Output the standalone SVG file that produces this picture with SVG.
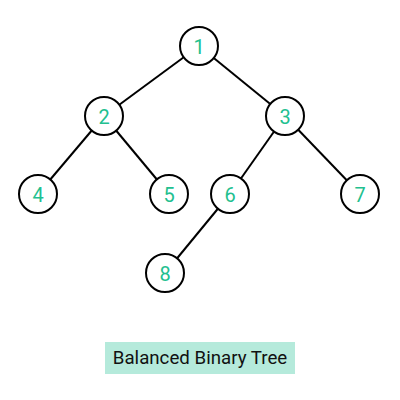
<svg xmlns="http://www.w3.org/2000/svg" width="400" height="400" viewBox="0 0 400 400">
<style>
.n circle{fill:#fff;stroke:#000;stroke-width:2}
.n text{font-family:Roboto,"Liberation Sans",sans-serif;font-size:20px;fill:#22c08f;text-anchor:middle;dominant-baseline:central}
.e line{stroke:#000;stroke-width:2}
</style>
<rect width="400" height="400" fill="#fff"/>
<g id="edges" class="e">
<line x1="199" y1="46" x2="104" y2="116"/>
<line x1="199" y1="46" x2="285" y2="116"/>
<line x1="104" y1="116" x2="38" y2="194"/>
<line x1="104" y1="116" x2="169" y2="194"/>
<line x1="285" y1="116" x2="230" y2="194"/>
<line x1="285" y1="116" x2="360" y2="194"/>
<line x1="230" y1="194" x2="165" y2="273"/>
</g>
<g id="n1" class="n"><circle cx="199" cy="46" r="19"/><text x="199" y="47">1</text></g>
<g id="n2" class="n"><circle cx="104" cy="116" r="19"/><text x="104" y="117">2</text></g>
<g id="n3" class="n"><circle cx="285" cy="116" r="19"/><text x="285" y="117">3</text></g>
<g id="n4" class="n"><circle cx="38" cy="194" r="19"/><text x="38" y="195">4</text></g>
<g id="n5" class="n"><circle cx="169" cy="194" r="19"/><text x="169" y="195">5</text></g>
<g id="n6" class="n"><circle cx="230" cy="194" r="19"/><text x="230" y="195">6</text></g>
<g id="n7" class="n"><circle cx="360" cy="194" r="19"/><text x="360" y="195">7</text></g>
<g id="n8" class="n"><circle cx="165" cy="273" r="19"/><text x="165" y="274">8</text></g>
<g id="caption">
<rect x="105" y="342" width="190" height="32" fill="#b5eadb"/>
<text x="200" y="358" font-family="Roboto,'Liberation Sans',sans-serif" font-size="18.7" fill="#111" text-anchor="middle" dominant-baseline="central">Balanced Binary Tree</text>
</g>
</svg>
